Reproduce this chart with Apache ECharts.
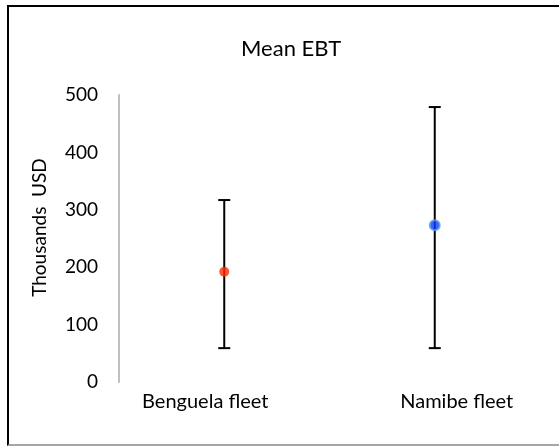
<!DOCTYPE html>
<html>
<head>
<meta charset="UTF-8">
<title>Mean EBT</title>
<script src="https://cdn.jsdelivr.net/npm/echarts@6/dist/echarts.min.js"></script>
<style>
    html, body { margin: 0; padding: 0; background: #fff; }
    #frame {
        position: absolute;
        left: 7px; top: 5px;
        width: 552px; height: 437px;
        border-left: 2px solid #000;
        border-top: 2px solid #000;
        border-bottom: 2px solid #a6a6a6;
    }
    #chart { position: absolute; left: 0; top: 0; width: 559px; height: 446px; }
</style>
</head>
<body>
<div id="frame"></div>
<div id="chart"></div>
<script>
// chart data (thousands USD)
var categories = ['Benguela fleet', 'Namibe fleet'];
var means = [192, 273];
var lows = [59, 59];
var highs = [317, 479];
var yTicks = [0, 100, 200, 300, 400, 500];

var font = 'Lato, "Open Sans", sans-serif';
var dotStyles = [
    { color: '#ff2a00' },
    { color: '#0a3cff', borderColor: '#5b9ee6', borderWidth: 2 }
];

var chart = echarts.init(document.getElementById('chart'));

var errData = categories.map(function (c, i) { return [i, lows[i], highs[i]]; });
var pointData = categories.map(function (c, i) {
    return { value: [i, means[i]], itemStyle: dotStyles[i] };
});

var option = {
    animation: false,
    title: {
        text: 'Mean EBT',
        left: 236,
        top: 33,
        textStyle: { fontFamily: font, fontSize: 22, fontWeight: 'normal', color: '#000' }
    },
    grid: { left: 119, right: 19, top: 95, bottom: 64 },
    xAxis: {
        type: 'category',
        data: categories,
        axisLine: { show: false },
        axisTick: { show: false },
        axisLabel: {
            interval: 0,
            hideOverlap: false,
            margin: 10,
            fontFamily: font, fontSize: 20, color: '#000',
            // labels sit a little off the bars, as in the original
            formatter: function (v, i) { return '{c' + i + '|' + v + '}'; },
            rich: {
                c0: { fontFamily: font, fontSize: 20, color: '#000', padding: [0, 38, 0, 0] },
                c1: { fontFamily: font, fontSize: 20, color: '#000', padding: [0, 0, 0, 44] }
            }
        }
    },
    yAxis: {
        type: 'value',
        min: yTicks[0],
        max: yTicks[yTicks.length - 1],
        interval: 100,
        name: 'Thousands  USD',
        nameLocation: 'middle',
        nameGap: 70,
        nameTextStyle: { fontFamily: font, fontSize: 19, color: '#000', padding: [0, 0, 0, 22] },
        axisLine: { show: true, lineStyle: { color: '#bfbfbf', width: 2 } },
        axisTick: { show: false },
        splitLine: { show: false },
        axisLabel: { margin: 21, fontFamily: font, fontSize: 19, color: '#000' }
    },
    series: [
        {
            type: 'custom',
            data: errData,
            z: 1,
            renderItem: function (params, api) {
                var x = api.value(0);
                var lo = api.coord([x, api.value(1)]);
                var hi = api.coord([x, api.value(2)]);
                var w = 6;
                var st = { stroke: '#000', lineWidth: 2 };
                return {
                    type: 'group',
                    children: [
                        { type: 'line', shape: { x1: hi[0], y1: hi[1], x2: lo[0], y2: lo[1] }, style: st },
                        { type: 'line', shape: { x1: hi[0] - w, y1: hi[1], x2: hi[0] + w, y2: hi[1] }, style: st },
                        { type: 'line', shape: { x1: lo[0] - w, y1: lo[1], x2: lo[0] + w, y2: lo[1] }, style: st }
                    ]
                };
            }
        },
        {
            type: 'scatter',
            data: pointData,
            symbolSize: 10,
            z: 3
        }
    ]
};

chart.setOption(option);
</script>
</body>
</html>
